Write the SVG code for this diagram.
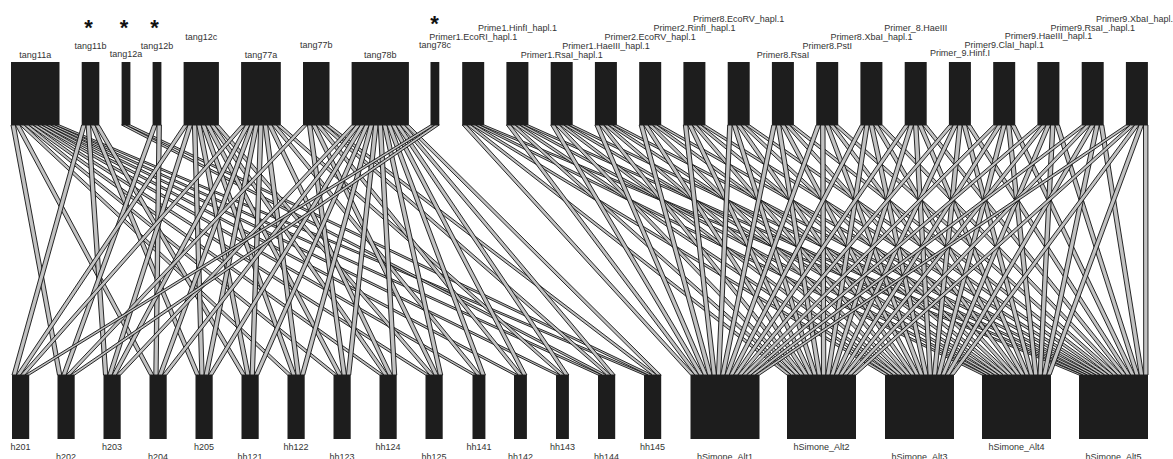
<svg xmlns="http://www.w3.org/2000/svg" width="1173" height="459" viewBox="0 0 1173 459">
<style>
.n rect{fill:#1d1d1d}
.n text{font-family:"Liberation Sans",Arial,sans-serif;font-size:9px;fill:#333;text-anchor:middle}
.n text.ast{font-size:22px;font-weight:bold;fill:#111}
#connectors polygon{fill:#c2c2c2;stroke:#111;stroke-width:0.9;stroke-linejoin:bevel}
</style>
<rect width="1173" height="459" fill="#fff"/>
<g id="connectors">
<polygon points="11.0,125 15.4,125 61.8,375 57.5,375"/>
<polygon points="15.4,125 19.8,125 153.8,375 149.5,375"/>
<polygon points="19.8,125 24.2,125 291.8,375 287.5,375"/>
<polygon points="24.2,125 28.6,125 337.8,375 333.5,375"/>
<polygon points="28.6,125 33.1,125 383.8,375 379.5,375"/>
<polygon points="33.1,125 37.5,125 429.8,375 425.5,375"/>
<polygon points="37.5,125 41.9,125 476.8,375 472.5,375"/>
<polygon points="41.9,125 46.3,125 518.3,375 514.0,375"/>
<polygon points="46.3,125 50.7,125 560.3,375 556.0,375"/>
<polygon points="50.7,125 55.1,125 602.3,375 598.0,375"/>
<polygon points="55.1,125 59.5,125 648.3,375 644.0,375"/>
<polygon points="81.7,125 86.1,125 16.3,375 12.0,375"/>
<polygon points="86.1,125 90.5,125 107.8,375 103.5,375"/>
<polygon points="90.5,125 94.9,125 199.8,375 195.5,375"/>
<polygon points="94.9,125 99.3,125 245.8,375 241.5,375"/>
<polygon points="121.6,125 126.0,125 606.6,375 602.3,375"/>
<polygon points="126.0,125 130.4,125 652.6,375 648.3,375"/>
<polygon points="152.6,125 157.0,125 66.1,375 61.8,375"/>
<polygon points="157.0,125 161.4,125 158.1,375 153.8,375"/>
<polygon points="183.6,125 188.0,125 20.6,375 16.3,375"/>
<polygon points="188.0,125 192.4,125 112.1,375 107.8,375"/>
<polygon points="192.4,125 196.8,125 204.1,375 199.8,375"/>
<polygon points="196.8,125 201.2,125 250.1,375 245.8,375"/>
<polygon points="201.2,125 205.6,125 296.1,375 291.8,375"/>
<polygon points="205.6,125 210.1,125 342.1,375 337.8,375"/>
<polygon points="210.1,125 214.5,125 388.1,375 383.8,375"/>
<polygon points="214.5,125 218.9,125 434.1,375 429.8,375"/>
<polygon points="241.1,125 245.5,125 24.9,375 20.6,375"/>
<polygon points="245.5,125 249.9,125 116.4,375 112.1,375"/>
<polygon points="249.9,125 254.3,125 162.4,375 158.1,375"/>
<polygon points="254.3,125 258.7,125 208.4,375 204.1,375"/>
<polygon points="258.7,125 263.2,125 254.4,375 250.1,375"/>
<polygon points="263.2,125 267.6,125 300.4,375 296.1,375"/>
<polygon points="267.6,125 272.0,125 392.4,375 388.1,375"/>
<polygon points="272.0,125 276.4,125 481.1,375 476.8,375"/>
<polygon points="276.4,125 280.8,125 564.6,375 560.3,375"/>
<polygon points="303.0,125 307.4,125 70.4,375 66.1,375"/>
<polygon points="307.4,125 311.8,125 346.4,375 342.1,375"/>
<polygon points="311.8,125 316.2,125 438.4,375 434.1,375"/>
<polygon points="316.2,125 320.6,125 522.6,375 518.3,375"/>
<polygon points="320.6,125 325.1,125 610.9,375 606.6,375"/>
<polygon points="325.1,125 329.5,125 656.9,375 652.6,375"/>
<polygon points="351.6,125 356.0,125 120.7,375 116.4,375"/>
<polygon points="356.0,125 360.4,125 166.7,375 162.4,375"/>
<polygon points="360.4,125 364.8,125 212.7,375 208.4,375"/>
<polygon points="364.8,125 369.2,125 258.7,375 254.4,375"/>
<polygon points="369.2,125 373.7,125 304.7,375 300.4,375"/>
<polygon points="373.7,125 378.1,125 350.7,375 346.4,375"/>
<polygon points="378.1,125 382.5,125 396.7,375 392.4,375"/>
<polygon points="382.5,125 386.9,125 442.7,375 438.4,375"/>
<polygon points="386.9,125 391.3,125 485.4,375 481.1,375"/>
<polygon points="391.3,125 395.7,125 526.9,375 522.6,375"/>
<polygon points="395.7,125 400.1,125 568.9,375 564.6,375"/>
<polygon points="400.1,125 404.5,125 615.2,375 610.9,375"/>
<polygon points="404.5,125 408.9,125 661.2,375 656.9,375"/>
<polygon points="430.5,125 434.9,125 29.2,375 24.9,375"/>
<polygon points="434.9,125 439.3,125 74.7,375 70.4,375"/>

<polygon points="462.2,125 466.6,125 694.8,375 690.5,375"/>
<polygon points="466.6,125 471.0,125 791.3,375 787.0,375"/>
<polygon points="471.0,125 475.4,125 889.3,375 885.0,375"/>
<polygon points="475.4,125 479.8,125 986.3,375 982.0,375"/>
<polygon points="479.8,125 484.2,125 1083.3,375 1079.0,375"/>
<polygon points="506.4,125 510.8,125 699.1,375 694.8,375"/>
<polygon points="510.8,125 515.2,125 795.6,375 791.3,375"/>
<polygon points="515.2,125 519.6,125 893.6,375 889.3,375"/>
<polygon points="519.6,125 524.0,125 990.6,375 986.3,375"/>
<polygon points="524.0,125 528.4,125 1087.6,375 1083.3,375"/>
<polygon points="550.7,125 555.1,125 703.4,375 699.1,375"/>
<polygon points="555.1,125 559.5,125 799.9,375 795.6,375"/>
<polygon points="559.5,125 563.9,125 897.9,375 893.6,375"/>
<polygon points="563.9,125 568.3,125 994.9,375 990.6,375"/>
<polygon points="568.3,125 572.7,125 1091.9,375 1087.6,375"/>
<polygon points="594.9,125 599.3,125 707.7,375 703.4,375"/>
<polygon points="599.3,125 603.7,125 804.2,375 799.9,375"/>
<polygon points="603.7,125 608.1,125 902.2,375 897.9,375"/>
<polygon points="608.1,125 612.5,125 999.2,375 994.9,375"/>
<polygon points="612.5,125 616.9,125 1096.2,375 1091.9,375"/>
<polygon points="639.2,125 643.6,125 712.1,375 707.7,375"/>
<polygon points="643.6,125 648.0,125 808.6,375 804.2,375"/>
<polygon points="648.0,125 652.4,125 906.6,375 902.2,375"/>
<polygon points="652.4,125 656.8,125 1003.6,375 999.2,375"/>
<polygon points="656.8,125 661.2,125 1100.6,375 1096.2,375"/>
<polygon points="683.4,125 687.8,125 716.4,375 712.1,375"/>
<polygon points="687.8,125 692.2,125 812.9,375 808.6,375"/>
<polygon points="692.2,125 696.6,125 910.9,375 906.6,375"/>
<polygon points="696.6,125 701.0,125 1007.9,375 1003.6,375"/>
<polygon points="701.0,125 705.4,125 1104.9,375 1100.6,375"/>
<polygon points="727.7,125 732.1,125 720.7,375 716.4,375"/>
<polygon points="732.1,125 736.5,125 817.2,375 812.9,375"/>
<polygon points="736.5,125 740.9,125 915.2,375 910.9,375"/>
<polygon points="740.9,125 745.3,125 1012.2,375 1007.9,375"/>
<polygon points="745.3,125 749.7,125 1109.2,375 1104.9,375"/>
<polygon points="771.9,125 776.3,125 725.0,375 720.7,375"/>
<polygon points="776.3,125 780.7,125 821.5,375 817.2,375"/>
<polygon points="780.7,125 785.1,125 919.5,375 915.2,375"/>
<polygon points="785.1,125 789.5,125 1016.5,375 1012.2,375"/>
<polygon points="789.5,125 793.9,125 1113.5,375 1109.2,375"/>
<polygon points="816.2,125 820.6,125 729.3,375 725.0,375"/>
<polygon points="820.6,125 825.0,125 825.8,375 821.5,375"/>
<polygon points="825.0,125 829.4,125 923.8,375 919.5,375"/>
<polygon points="829.4,125 833.8,125 1020.8,375 1016.5,375"/>
<polygon points="833.8,125 838.2,125 1117.8,375 1113.5,375"/>
<polygon points="860.4,125 864.8,125 733.6,375 729.3,375"/>
<polygon points="864.8,125 869.2,125 830.1,375 825.8,375"/>
<polygon points="869.2,125 873.6,125 928.1,375 923.8,375"/>
<polygon points="873.6,125 878.0,125 1025.1,375 1020.8,375"/>
<polygon points="878.0,125 882.4,125 1122.1,375 1117.8,375"/>
<polygon points="904.7,125 909.1,125 737.9,375 733.6,375"/>
<polygon points="909.1,125 913.5,125 834.4,375 830.1,375"/>
<polygon points="913.5,125 917.9,125 932.4,375 928.1,375"/>
<polygon points="917.9,125 922.3,125 1029.4,375 1025.1,375"/>
<polygon points="922.3,125 926.7,125 1126.4,375 1122.1,375"/>
<polygon points="948.9,125 953.3,125 742.2,375 737.9,375"/>
<polygon points="953.3,125 957.7,125 838.7,375 834.4,375"/>
<polygon points="957.7,125 962.1,125 936.7,375 932.4,375"/>
<polygon points="962.1,125 966.5,125 1033.7,375 1029.4,375"/>
<polygon points="966.5,125 970.9,125 1130.7,375 1126.4,375"/>
<polygon points="993.2,125 997.6,125 746.5,375 742.2,375"/>
<polygon points="997.6,125 1002.0,125 843.0,375 838.7,375"/>
<polygon points="1002.0,125 1006.4,125 941.0,375 936.7,375"/>
<polygon points="1006.4,125 1010.8,125 1038.0,375 1033.7,375"/>
<polygon points="1010.8,125 1015.2,125 1135.0,375 1130.7,375"/>
<polygon points="1037.4,125 1041.8,125 750.8,375 746.5,375"/>
<polygon points="1041.8,125 1046.2,125 847.3,375 843.0,375"/>
<polygon points="1046.2,125 1050.6,125 945.3,375 941.0,375"/>
<polygon points="1050.6,125 1055.0,125 1042.3,375 1038.0,375"/>
<polygon points="1055.0,125 1059.4,125 1139.3,375 1135.0,375"/>
<polygon points="1081.7,125 1086.1,125 755.2,375 750.8,375"/>
<polygon points="1086.1,125 1090.5,125 851.7,375 847.3,375"/>
<polygon points="1090.5,125 1094.9,125 949.7,375 945.3,375"/>
<polygon points="1094.9,125 1099.3,125 1046.7,375 1042.3,375"/>
<polygon points="1099.3,125 1103.7,125 1143.7,375 1139.3,375"/>
<polygon points="1125.9,125 1130.3,125 759.5,375 755.2,375"/>
<polygon points="1130.3,125 1134.7,125 856.0,375 851.7,375"/>
<polygon points="1134.7,125 1139.1,125 954.0,375 949.7,375"/>
<polygon points="1139.1,125 1143.5,125 1051.0,375 1046.7,375"/>
<polygon points="1143.5,125 1147.9,125 1148.0,375 1143.7,375"/>
</g>

<g id="tang11a" class="n"><rect x="11" y="62" width="48.5" height="63"/><text x="35.3" y="57.5">tang11a</text></g>
<g id="tang11b" class="n"><rect x="81.7" y="62" width="17.6" height="63"/><text x="90.5" y="48.5">tang11b</text><text class="ast" x="88.5" y="34.5">*</text></g>
<g id="tang12a" class="n"><rect x="121.6" y="62" width="8.8" height="63"/><text x="126" y="57">tang12a</text><text class="ast" x="124" y="34.5">*</text></g>
<g id="tang12b" class="n"><rect x="152.6" y="62" width="8.8" height="63"/><text x="157" y="48.5">tang12b</text><text class="ast" x="154.5" y="34.5">*</text></g>
<g id="tang12c" class="n"><rect x="183.6" y="62" width="35.3" height="63"/><text x="201.2" y="39.5">tang12c</text></g>
<g id="tang77a" class="n"><rect x="241.1" y="62" width="39.7" height="63"/><text x="261" y="57.5">tang77a</text></g>
<g id="tang77b" class="n"><rect x="303" y="62" width="26.5" height="63"/><text x="316.2" y="48">tang77b</text></g>
<g id="tang78b" class="n"><rect x="351.6" y="62" width="57.3" height="63"/><text x="380.3" y="57.5">tang78b</text></g>
<g id="tang78c" class="n"><rect x="430.5" y="62" width="8.8" height="63"/><text x="434.9" y="48">tang78c</text><text class="ast" x="434.5" y="31">*</text></g>

<g id="Primer1.EcoRI_hapl.1" class="n"><rect x="462.2" y="62" width="22" height="63"/><text x="473.2" y="39.5">Primer1.EcoRI_hapl.1</text></g>
<g id="Prime1.HinfI_hapl.1" class="n"><rect x="506.4" y="62" width="22" height="63"/><text x="517.4" y="31">Prime1.HinfI_hapl.1</text></g>
<g id="Primer1.RsaI_hapl.1" class="n"><rect x="550.7" y="62" width="22" height="63"/><text x="561.7" y="57.5">Primer1.RsaI_hapl.1</text></g>
<g id="Primer1.HaeIII_hapl.1" class="n"><rect x="594.9" y="62" width="22" height="63"/><text x="605.9" y="48.5">Primer1.HaeIII_hapl.1</text></g>
<g id="Primer2.EcoRV_hapl.1" class="n"><rect x="639.2" y="62" width="22" height="63"/><text x="650.2" y="39.5">Primer2.EcoRV_hapl.1</text></g>
<g id="Primer2.RinfI_hapl.1" class="n"><rect x="683.4" y="62" width="22" height="63"/><text x="694.4" y="30.5">Primer2.RinfI_hapl.1</text></g>
<g id="Primer8.EcoRV_hapl.1" class="n"><rect x="727.7" y="62" width="22" height="63"/><text x="738.7" y="21.5">Primer8.EcoRV_hapl.1</text></g>
<g id="Primer8.RsaI" class="n"><rect x="771.9" y="62" width="22" height="63"/><text x="782.9" y="57.5">Primer8.RsaI</text></g>
<g id="Primer8.PstI" class="n"><rect x="816.2" y="62" width="22" height="63"/><text x="827.2" y="48.5">Primer8.PstI</text></g>
<g id="Primer8.XbaI_hapl.1" class="n"><rect x="860.4" y="62" width="22" height="63"/><text x="871.4" y="39.5">Primer8.XbaI_hapl.1</text></g>
<g id="Primer_8.HaeIII" class="n"><rect x="904.7" y="62" width="22" height="63"/><text x="915.7" y="30.5">Primer_8.HaeIII</text></g>
<g id="Primer_9.Hinf.I" class="n"><rect x="948.9" y="62" width="22" height="63"/><text x="959.9" y="56">Primer_9.Hinf.I</text></g>
<g id="Primer9.ClaI_hapl.1" class="n"><rect x="993.2" y="62" width="22" height="63"/><text x="1004.2" y="47.5">Primer9.ClaI_hapl.1</text></g>
<g id="Primer9.HaeIII_hapl.1" class="n"><rect x="1037.4" y="62" width="22" height="63"/><text x="1048.4" y="39">Primer9.HaeIII_hapl.1</text></g>
<g id="Primer9.RsaI_.hapl.1" class="n"><rect x="1081.7" y="62" width="22" height="63"/><text x="1092.7" y="30.5">Primer9.RsaI_.hapl.1</text></g>
<g id="Primer9.XbaI_hapl.1" class="n"><rect x="1125.9" y="62" width="22" height="63"/><text x="1136.9" y="21.5">Primer9.XbaI_hapl.1</text></g>

<g id="h201" class="n"><rect x="12" y="375" width="17.2" height="64"/><text x="20.6" y="450">h201</text></g>
<g id="h202" class="n"><rect x="57.5" y="375" width="17.2" height="64"/><text x="66.1" y="460">h202</text></g>
<g id="h203" class="n"><rect x="103.5" y="375" width="17.2" height="64"/><text x="112.1" y="450">h203</text></g>
<g id="h204" class="n"><rect x="149.5" y="375" width="17.2" height="64"/><text x="158.1" y="460">h204</text></g>
<g id="h205" class="n"><rect x="195.5" y="375" width="17.2" height="64"/><text x="204.1" y="450">h205</text></g>
<g id="hh121" class="n"><rect x="241.5" y="375" width="17.2" height="64"/><text x="250.1" y="460">hh121</text></g>
<g id="hh122" class="n"><rect x="287.5" y="375" width="17.2" height="64"/><text x="296.1" y="450">hh122</text></g>
<g id="hh123" class="n"><rect x="333.5" y="375" width="17.2" height="64"/><text x="342.1" y="460">hh123</text></g>
<g id="hh124" class="n"><rect x="379.5" y="375" width="17.2" height="64"/><text x="388.1" y="450">hh124</text></g>
<g id="hh125" class="n"><rect x="425.5" y="375" width="17.2" height="64"/><text x="434.1" y="460">hh125</text></g>
<g id="hh141" class="n"><rect x="472.5" y="375" width="12.9" height="64"/><text x="478.9" y="450">hh141</text></g>
<g id="hh142" class="n"><rect x="514" y="375" width="12.9" height="64"/><text x="520.5" y="460">hh142</text></g>
<g id="hh143" class="n"><rect x="556" y="375" width="12.9" height="64"/><text x="562.5" y="450">hh143</text></g>
<g id="hh144" class="n"><rect x="598" y="375" width="17.2" height="64"/><text x="606.6" y="460">hh144</text></g>
<g id="hh145" class="n"><rect x="644" y="375" width="17.2" height="64"/><text x="652.6" y="450">hh145</text></g>
<g id="hSimone_Alt1" class="n"><rect x="690.5" y="375" width="69" height="64"/><text x="725" y="460">hSimone_Alt1</text></g>
<g id="hSimone_Alt2" class="n"><rect x="787" y="375" width="69" height="64"/><text x="821.5" y="450">hSimone_Alt2</text></g>
<g id="hSimone_Alt3" class="n"><rect x="885" y="375" width="69" height="64"/><text x="919.5" y="460">hSimone_Alt3</text></g>
<g id="hSimone_Alt4" class="n"><rect x="982" y="375" width="69" height="64"/><text x="1016.5" y="450">hSimone_Alt4</text></g>
<g id="hSimone_Alt5" class="n"><rect x="1079" y="375" width="69" height="64"/><text x="1113.5" y="460">hSimone_Alt5</text></g>
</svg>
